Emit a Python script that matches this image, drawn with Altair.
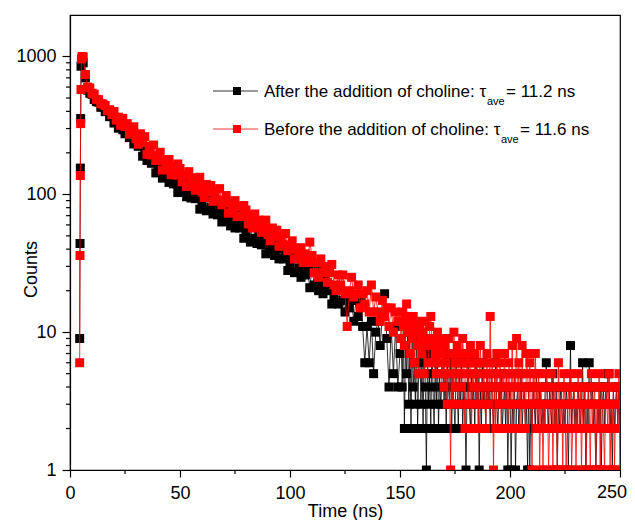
import altair as alt
import pandas as pd

# ---------------- data ----------------
# rise channels, then 1 ns channels up to 149 ns, then 0.5 ns channels to 250 ns
time_ns = ([4.4, 4.55, 4.7, 4.85, 5.0, 5.2, 5.5]
           + list(range(6, 150))
           + [150 + 0.5 * i for i in range(201)])

after_counts = [
    9, 44, 155, 355, 850, 930, 960,
    # 6 .. 19 ns
    900, 700, 570, 541, 532, 487, 470, 466, 428, 431, 398, 401, 366, 371,
    # 20 .. 149 ns
    329, 354, 302, 336, 294, 275, 306, 258, 270, 232,
    266, 223, 251, 189, 206, 176, 206, 168, 181, 143,
    151, 167, 131, 162, 136, 122, 152, 119, 129, 103,
    129, 109, 125, 96, 107, 94, 117, 93, 101, 78,
    86, 96, 76, 95, 80, 72, 90, 71, 78, 63,
    78, 67, 77, 59, 66, 57, 72, 57, 62, 48,
    52, 58, 45, 70, 48, 44, 54, 43, 47, 37,
    47, 40, 46, 36, 40, 34, 43, 34, 37, 28,
    31, 35, 27, 34, 29, 25, 33, 26, 28, 21,
    29, 22, 28, 20, 23, 19, 26, 20, 22, 16,
    18, 21, 16, 21, 17, 14, 19, 15, 17, 12,
    17, 13, 17, 11, 6, 11, 6, 12, 5, 10,
    12, 8, 13, 19, 9, 4, 11, 5, 11, 4,
    # 150 .. 250 ns (0.5 ns)
    7, 9, 4, 12, 2, 8, 5, 10, 3, 7,
    2, 9, 4, 6, 3, 11, 2, 5, 8, 3,
    6, 2, 9, 4, 1, 7, 3, 5, 2, 8,
    4, 2, 6, 3, 7, 2, 5, 3, 4, 8,
    3, 5, 2, 6, 4, 3, 7, 2, 5, 3,
    2, 6, 4, 2, 5, 3, 6, 2, 4, 3,
    1, 4, 6, 3, 2, 5, 3, 4, 2, 6,
    3, 5, 1, 4, 2, 6, 3, 4, 2, 5,
    3, 4, 2, 5, 3, 2, 4, 6, 3, 2,
    4, 3, 5, 2, 3, 4, 2, 5, 1, 3,
    4, 1, 3, 2, 5, 1, 3, 4, 2, 3,
    5, 2, 3, 4, 2, 3, 1, 4, 1, 3,
    2, 4, 3, 2, 5, 3, 2, 4, 3, 2,
    3, 2, 4, 6, 3, 2, 4, 3, 2, 5,
    3, 2, 4, 1, 3, 2, 4, 3, 2, 3,
    2, 4, 3, 1, 3, 8, 2, 3, 4, 2,
    3, 2, 4, 3, 2, 3, 6, 2, 4, 1,
    3, 2, 6, 4, 3, 4, 2, 3, 1, 2,
    3, 2, 4, 1, 3, 4, 2, 4, 3, 5,
    5, 2, 3, 1, 4, 2, 3, 4, 2, 4,
    2,
]

before_counts = [
    6, 36, 137, 326, 576, 960, 1000,
    # 6 .. 19 ns
    990, 740, 600, 592, 541, 533, 489, 486, 455, 452, 441, 404, 411, 379,
    # 20 .. 149 ns
    399, 346, 363, 317, 356, 310, 326, 273, 293, 309,
    253, 231, 275, 237, 262, 195, 223, 193, 228, 176,
    186, 202, 150, 175, 157, 179, 139, 161, 138, 166,
    154, 123, 139, 114, 146, 121, 132, 107, 119, 133,
    104, 95, 118, 104, 116, 89, 104, 91, 110, 84,
    89, 98, 73, 87, 78, 90, 69, 81, 69, 83,
    77, 61, 69, 57, 72, 60, 65, 53, 58, 65,
    51, 46, 57, 49, 55, 42, 49, 43, 52, 39,
    42, 46, 34, 40, 36, 41, 32, 37, 32, 45,
    36, 27, 32, 25, 34, 27, 30, 23, 27, 31,
    22, 20, 26, 22, 26, 19, 11, 20, 25, 18,
    19, 22, 15, 19, 16, 20, 14, 22, 14, 18,
    14, 12, 17, 13, 15, 11, 15, 10, 14, 12,
    # 150 .. 250 ns (0.5 ns)
    12, 9, 14, 11, 8, 13, 16, 10, 12, 7,
    11, 9, 13, 6, 10, 12, 8, 5, 11, 9,
    7, 10, 5, 12, 8, 9, 6, 11, 13, 8,
    6, 9, 7, 5, 10, 8, 6, 9, 5, 7,
    4, 8, 6, 3, 9, 5, 1, 7, 3, 10,
    4, 6, 8, 5, 3, 7, 4, 9, 6, 2,
    5, 7, 3, 6, 8, 2, 5, 4, 7, 3,
    6, 2, 4, 8, 5, 3, 6, 4, 2, 7,
    5, 3, 13, 4, 6, 1, 5, 2, 7, 4,
    3, 6, 2, 5, 4, 7, 3, 5, 2, 6,
    4, 3, 8, 2, 5, 4, 9, 3, 6, 2,
    5, 8, 3, 4, 2, 7, 5, 3, 6, 4,
    1, 5, 3, 7, 4, 2, 5, 1, 4, 3,
    1, 3, 2, 5, 4, 1, 2, 3, 5, 1,
    4, 2, 3, 1, 6, 3, 2, 4, 1, 5,
    3, 1, 2, 4, 3, 5, 1, 2, 4, 3,
    1, 3, 5, 2, 4, 1, 3, 2, 4, 1,
    2, 4, 3, 1, 5, 2, 3, 4, 1, 3,
    2, 5, 1, 4, 3, 2, 1, 4, 3, 2,
    5, 1, 3, 2, 4, 1, 3, 4, 2, 5,
    1,
]

x_ticks = [0, 50, 100, 150, 200, 250]
x_minor_ticks = [25, 75, 125, 175, 225]
y_ticks = [1, 10, 100, 1000]
y_minor_ticks = [2, 3, 4, 5, 6, 7, 8, 9,
                 20, 30, 40, 50, 60, 70, 80, 90,
                 200, 300, 400, 500, 600, 700, 800, 900]
last_x_label = "250"

label_after = "After the addition of choline: τ"
label_before = "Before the addition of choline: τ"
tail_after = "= 11.2 ns"
tail_before = "= 11.6 ns"
sub_text = "ave"

# ---------------- chart ----------------
FONT = "Liberation Sans"
W, H = 550, 455

xscale = alt.Scale(domain=[0, 250], nice=False, zero=False)
yscale = alt.Scale(type="log", domain=[1, 2000], nice=False)

xaxis = alt.Axis(values=x_ticks, title="Time (ns)", grid=False, tickSize=7,
                 labelPadding=7, labelFontSize=18, titleFontSize=18,
                 titleFontWeight="normal", titleY=41, titleBaseline="middle",
                 labelFlush=False,
                 labelExpr="datum.value == 250 ? '' : datum.label")
yaxis = alt.Axis(values=y_ticks, title="Counts", grid=False, tickSize=8,
                 labelPadding=6, labelFontSize=18, titleFontSize=18,
                 titleFontWeight="normal", format="d", titleAngle=270,
                 titleX=-39, titleY=254, titleBaseline="middle",
                 titleAlign="center")

after_df = pd.DataFrame({"time": time_ns, "counts": after_counts})
before_df = pd.DataFrame({"time": time_ns, "counts": before_counts})


def series(df, color):
    base = alt.Chart(df).encode(
        x=alt.X("time:Q", scale=xscale, axis=xaxis),
        y=alt.Y("counts:Q", scale=yscale, axis=yaxis),
    )
    line = base.mark_line(color=color, strokeWidth=0.8, clip=True)
    pts = base.mark_square(color=color, size=81, opacity=1, clip=True)
    return line + pts


one = pd.DataFrame({"k": [0]})

ytick_minor = alt.Chart(pd.DataFrame({"v": y_minor_ticks})).mark_rule(
    color="black", strokeWidth=1.2).encode(
    y=alt.Y("v:Q", scale=yscale, axis=yaxis),
    x=alt.value(-4), x2=alt.value(0))
xtick_minor = alt.Chart(pd.DataFrame({"v": x_minor_ticks})).mark_rule(
    color="black", strokeWidth=1.2).encode(
    x=alt.X("v:Q", scale=xscale, axis=xaxis),
    y=alt.value(H), y2=alt.value(H + 4))
last_label = alt.Chart(one).mark_text(
    align="right", baseline="top", font=FONT, fontSize=18, color="black").encode(
    x=alt.value(W + 7), y=alt.value(H + 14), text=alt.value(last_x_label))


def legend_row(ypos, color, label, sub_x, tail, tail_x):
    line = alt.Chart(one).mark_rule(color=color, strokeWidth=0.8).encode(
        x=alt.value(143), x2=alt.value(188), y=alt.value(ypos))
    sq = alt.Chart(one).mark_square(color=color, size=64, opacity=1).encode(
        x=alt.value(167), y=alt.value(ypos))
    txt = alt.Chart(one).mark_text(align="left", baseline="alphabetic",
                                   font=FONT, fontSize=17, color="black").encode(
        x=alt.value(194), y=alt.value(ypos + 6), text=alt.value(label))
    sub = alt.Chart(one).mark_text(align="left", baseline="alphabetic",
                                   font=FONT, fontSize=11, color="black").encode(
        x=alt.value(sub_x), y=alt.value(ypos + 14), text=alt.value(sub_text))
    tl = alt.Chart(one).mark_text(align="left", baseline="alphabetic",
                                  font=FONT, fontSize=17, color="black").encode(
        x=alt.value(tail_x), y=alt.value(ypos + 6), text=alt.value(tail))
    return line + sq + txt + sub + tl


chart = alt.layer(
    series(after_df, "#000000"),
    series(before_df, "#ff0000"),
    ytick_minor,
    xtick_minor,
    last_label,
    legend_row(76, "#000000", label_after, 417, tail_after, 436),
    legend_row(114, "#ff0000", label_before, 431, tail_before, 450),
).properties(
    width=W, height=H,
    autosize=alt.AutoSizeParams(type="none"),
    padding={"left": 62, "top": 7, "right": 7, "bottom": 50},
    background="white",
).configure_view(
    stroke="black", strokeWidth=1.2
).configure_axis(
    domainColor="black", tickColor="black", labelColor="black",
    titleColor="black", labelFont=FONT, titleFont=FONT,
    tickWidth=1.2, domainWidth=1.2,
)

chart.save("out.html", embed_options={"renderer": "svg", "actions": False})
